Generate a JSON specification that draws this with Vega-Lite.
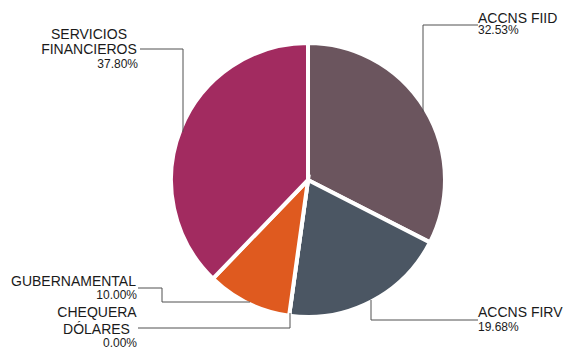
{
  "$schema": "https://vega.github.io/schema/vega-lite/v6.json",
  "width": 512,
  "height": 334,
  "padding": {"left": 52, "top": 13, "right": 0, "bottom": 0},
  "autosize": {"type": "none"},
  "background": "white",
  "config": {"view": {"stroke": null}, "font": "Liberation Sans"},
  "datasets": {
    "slices": [
      {"name": "ACCNS FIID", "pct": 32.53, "ord": 1},
      {"name": "ACCNS FIRV", "pct": 19.68, "ord": 2},
      {"name": "CHEQUERA DÓLARES", "pct": 0.0, "ord": 3},
      {"name": "GUBERNAMENTAL", "pct": 10.0, "ord": 4},
      {"name": "SERVICIOS FINANCIEROS", "pct": 37.8, "ord": 5}
    ],
    "leaders": [
      {"name": "ACCNS FIID", "seq": 1, "lx": 115, "ly": 68},
      {"name": "ACCNS FIID", "seq": 2, "lx": 115, "ly": 155},
      {"name": "ACCNS FIID", "seq": 3, "lx": 170, "ly": 155},
      {"name": "SERVICIOS FINANCIEROS", "seq": 1, "lx": -168, "ly": 131},
      {"name": "SERVICIOS FINANCIEROS", "seq": 2, "lx": -125, "ly": 131},
      {"name": "SERVICIOS FINANCIEROS", "seq": 3, "lx": -125, "ly": 48},
      {"name": "GUBERNAMENTAL", "seq": 1, "lx": -170, "ly": -108},
      {"name": "GUBERNAMENTAL", "seq": 2, "lx": -146, "ly": -108},
      {"name": "GUBERNAMENTAL", "seq": 3, "lx": -146, "ly": -122},
      {"name": "GUBERNAMENTAL", "seq": 4, "lx": -58, "ly": -122},
      {"name": "CHEQUERA DÓLARES", "seq": 1, "lx": -170, "ly": -148},
      {"name": "CHEQUERA DÓLARES", "seq": 2, "lx": -18, "ly": -148},
      {"name": "CHEQUERA DÓLARES", "seq": 3, "lx": -18, "ly": -133},
      {"name": "ACCNS FIRV", "seq": 1, "lx": 63, "ly": -120},
      {"name": "ACCNS FIRV", "seq": 2, "lx": 63, "ly": -140},
      {"name": "ACCNS FIRV", "seq": 3, "lx": 170, "ly": -140}
    ],
    "labels": [
      {"name": "ACCNS FIID", "text": "ACCNS FIID", "kind": "name", "side": "right", "lx": 170, "ly": 157},
      {"name": "ACCNS FIID", "text": "32.53%", "kind": "pct", "side": "right", "lx": 170, "ly": 146},
      {"name": "ACCNS FIRV", "text": "ACCNS FIRV", "kind": "name", "side": "right", "lx": 170, "ly": -137},
      {"name": "ACCNS FIRV", "text": "19.68%", "kind": "pct", "side": "right", "lx": 170, "ly": -151},
      {"name": "SERVICIOS FINANCIEROS", "text": "SERVICIOS", "kind": "name", "side": "left", "lx": -219, "ly": 141},
      {"name": "SERVICIOS FINANCIEROS", "text": "FINANCIEROS", "kind": "name", "side": "left", "lx": -219, "ly": 126},
      {"name": "SERVICIOS FINANCIEROS", "text": "37.80%", "kind": "pct", "side": "left", "lx": -170, "ly": 112},
      {"name": "GUBERNAMENTAL", "text": "GUBERNAMENTAL", "kind": "name", "side": "left", "lx": -234.5, "ly": -106},
      {"name": "GUBERNAMENTAL", "text": "10.00%", "kind": "pct", "side": "left", "lx": -171, "ly": -119},
      {"name": "CHEQUERA DÓLARES", "text": "CHEQUERA", "kind": "name", "side": "left", "lx": -211, "ly": -137},
      {"name": "CHEQUERA DÓLARES", "text": "DÓLARES", "kind": "name", "side": "left", "lx": -211.5, "ly": -154},
      {"name": "CHEQUERA DÓLARES", "text": "0.00%", "kind": "pct", "side": "left", "lx": -171, "ly": -167}
    ]
  },
  "layer": [
    {
      "data": {"name": "slices"},
      "mark": {"type": "arc", "outerRadius": 137, "stroke": "white", "strokeWidth": 4},
      "encoding": {
        "theta": {"field": "pct", "type": "quantitative", "stack": true},
        "order": {"field": "ord", "type": "quantitative"},
        "color": {
          "field": "name",
          "type": "nominal",
          "legend": null,
          "scale": {
            "domain": ["ACCNS FIID", "ACCNS FIRV", "CHEQUERA DÓLARES", "GUBERNAMENTAL", "SERVICIOS FINANCIEROS"],
            "range": ["#6b555e", "#4b5663", "#8c8c8c", "#df5a1f", "#a22b60"]
          }
        }
      }
    },
    {
      "data": {"name": "leaders"},
      "mark": {"type": "line", "color": "#505050", "strokeWidth": 1, "interpolate": "linear"},
      "encoding": {
        "x": {"field": "lx", "type": "quantitative", "axis": null, "scale": {"domain": [-256, 256], "nice": false, "zero": false}},
        "y": {"field": "ly", "type": "quantitative", "axis": null, "scale": {"domain": [-167, 167], "nice": false, "zero": false}},
        "detail": {"field": "name"},
        "order": {"field": "seq", "type": "quantitative"}
      }
    },
    {
      "data": {"name": "labels"},
      "transform": [{"filter": "datum.side === 'right' && datum.kind === 'name'"}],
      "mark": {"type": "text", "align": "left", "baseline": "alphabetic", "fontSize": 14, "color": "#1a1a1a"},
      "encoding": {
        "x": {"field": "lx", "type": "quantitative"},
        "y": {"field": "ly", "type": "quantitative"},
        "text": {"field": "text"}
      }
    },
    {
      "data": {"name": "labels"},
      "transform": [{"filter": "datum.side === 'right' && datum.kind === 'pct'"}],
      "mark": {"type": "text", "align": "left", "baseline": "alphabetic", "fontSize": 12, "color": "#1a1a1a"},
      "encoding": {
        "x": {"field": "lx", "type": "quantitative"},
        "y": {"field": "ly", "type": "quantitative"},
        "text": {"field": "text"}
      }
    },
    {
      "data": {"name": "labels"},
      "transform": [{"filter": "datum.side === 'left' && datum.kind === 'name'"}],
      "mark": {"type": "text", "align": "center", "baseline": "alphabetic", "fontSize": 14, "color": "#1a1a1a"},
      "encoding": {
        "x": {"field": "lx", "type": "quantitative"},
        "y": {"field": "ly", "type": "quantitative"},
        "text": {"field": "text"}
      }
    },
    {
      "data": {"name": "labels"},
      "transform": [{"filter": "datum.side === 'left' && datum.kind === 'pct'"}],
      "mark": {"type": "text", "align": "right", "baseline": "alphabetic", "fontSize": 12, "color": "#1a1a1a"},
      "encoding": {
        "x": {"field": "lx", "type": "quantitative"},
        "y": {"field": "ly", "type": "quantitative"},
        "text": {"field": "text"}
      }
    }
  ]
}
